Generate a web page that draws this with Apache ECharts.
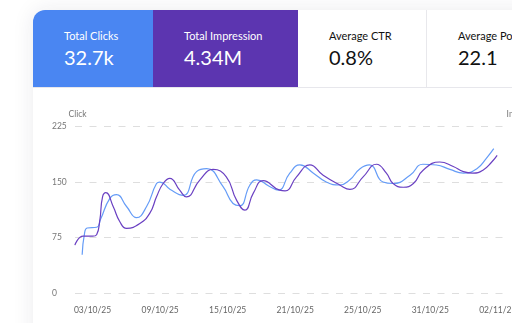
<!DOCTYPE html>
<html>
<head>
<meta charset="utf-8">
<script src="https://cdn.jsdelivr.net/npm/echarts@6/dist/echarts.min.js"></script>
<style>
  html, body { margin: 0; padding: 0; }
  body { width: 512px; height: 323px; overflow: hidden; background: #fff; font-family: Lato, "Noto Sans", sans-serif; position: relative; }
  .card { position: absolute; left: 33px; top: 10px; width: 560px; height: 400px; background: #fff;
          border-radius: 12px 0 0 0; box-shadow: 0 0 22px rgba(30, 30, 70, 0.09); overflow: hidden; }
  .tiles { display: flex; height: 77px; border-bottom: 1px solid #e7e7ec; }
  .tile { position: relative; height: 77px; box-sizing: border-box; flex: none; }
  .tile .label { position: absolute; left: 31px; top: 20px; font-size: 11px; line-height: 12px; white-space: nowrap; }
  .tile .num { position: absolute; left: 31px; top: 36px; font-size: 20px; line-height: 22px; white-space: nowrap; }
  .t1 { width: 120px; background: #4a86f2; color: #fff; }
  .t2 { width: 145px; background: #5c35b0; color: #fff; }
  .t3 { width: 129px; color: #111; border-right: 1px solid #e8e8ec; }
  .t4 { width: 160px; color: #111; }
  #chart { position: absolute; left: 0; top: 78px; width: 560px; height: 235px; }
</style>
</head>
<body>
<div class="card">
  <div class="tiles">
    <div class="tile t1"><div class="label">Total Clicks</div><div class="num">32.7k</div></div>
    <div class="tile t2"><div class="label">Total Impression</div><div class="num">4.34M</div></div>
    <div class="tile t3"><div class="label">Average CTR</div><div class="num">0.8%</div></div>
    <div class="tile t4"><div class="label">Average Position</div><div class="num">22.1</div></div>
  </div>
  <div id="chart"></div>
</div>
<script>
// Date labels along the bottom axis, one per label slot (slot index = position).
const dateLabels = ['03/10/25', '09/10/25', '15/10/25', '21/10/25', '25/10/25', '31/10/25', '02/11/25'];
const clickTicks = [0, 75, 150, 225];

// Clicks: position along the date axis (in label slots) and value.
const clickAt = [-0.154, -0.12, -0.08, 0.06, 0.12, 0.256, 0.355, 0.503, 0.651, 0.80, 0.947, 0.996,
  1.15, 1.34, 1.54, 1.69, 1.93, 2.08, 2.18, 2.33, 2.43, 2.62, 2.75, 2.92, 3.07, 3.27, 3.46,
  3.66, 3.81, 3.96, 4.10, 4.30, 4.45, 4.70, 4.89, 5.09, 5.29, 5.49, 5.69, 5.83, 5.94];
const clicks = [52, 80, 88, 89, 100, 128, 133, 117, 102, 117, 148, 150,
  140, 132, 164, 168, 144, 121, 118, 146, 153, 144, 139, 162, 173, 162, 150,
  146, 153, 168, 173, 150, 148, 159, 174, 173, 167, 162, 168, 182, 195];

// Impressions (right axis).
const impressionAt = [-0.262, -0.14, 0.0, 0.06, 0.108, 0.148, 0.197, 0.305, 0.404, 0.503, 0.70, 0.848,
  0.947, 1.045, 1.144, 1.29, 1.39, 1.59, 1.785, 1.98, 2.13, 2.255, 2.38, 2.526, 2.77, 2.85,
  3.02, 3.217, 3.414, 3.66, 3.81, 4.006, 4.204, 4.35, 4.45, 4.6, 4.75, 4.894, 5.14, 5.34,
  5.49, 5.63, 5.78, 5.91, 5.99];
const impressions = [65, 77, 77, 79, 99, 130, 135.6, 117, 96.5, 87.6, 94, 108,
  130, 148, 155, 139, 130, 153, 167, 157, 126, 112, 135, 152, 139, 138,
  157, 173, 159, 146, 140, 157, 174, 162, 148, 143, 148, 166, 177, 171,
  164, 162, 166, 177, 186];

const zip = (xs, ys) => xs.map((x, i) => [x, ys[i]]);

const chart = echarts.init(document.getElementById('chart'), null, { renderer: 'canvas' });
const axisFont = { fontFamily: 'Lato, "Noto Sans", sans-serif', fontSize: 8.5, color: '#777' };

chart.setOption({
  animation: false,
  grid: { left: 42, right: 86.4, top: 38.4, bottom: 29.7 },
  xAxis: {
    type: 'value',
    min: -0.26,
    max: 6.13,
    axisLine: { show: false },
    axisTick: { show: false },
    splitLine: { show: false },
    axisLabel: Object.assign({}, axisFont, {
      color: '#666',
      margin: 12,
      customValues: dateLabels.map((_, i) => i),
      formatter: (v) => dateLabels[Math.round(v)] || ''
    })
  },
  yAxis: [
    {
      type: 'value',
      min: clickTicks[0],
      max: clickTicks[clickTicks.length - 1],
      interval: 75,
      name: 'Click',
      nameLocation: 'end',
      nameGap: 12.4,
      nameTextStyle: Object.assign({}, axisFont, { align: 'right', verticalAlign: 'middle', padding: [0, 6, 0, 0] }),
      axisLine: { show: false },
      axisTick: { show: false },
      axisLabel: Object.assign({}, axisFont, { align: 'left', margin: 23 }),
      splitLine: { lineStyle: { color: '#dedede', width: 1, type: [7, 7.5] } }
    },
    {
      type: 'value',
      position: 'right',
      min: 0,
      max: 225,
      interval: 75,
      name: 'Impression',
      nameLocation: 'end',
      nameGap: 12.4,
      nameTextStyle: Object.assign({}, axisFont, { align: 'left', verticalAlign: 'middle', padding: [0, 0, 0, 0] }),
      axisLine: { show: false },
      axisTick: { show: false },
      axisLabel: { show: false },
      splitLine: { show: false }
    }
  ],
  series: [
    {
      name: 'Click',
      type: 'line',
      yAxisIndex: 0,
      smooth: true,
      showSymbol: false,
      lineStyle: { color: '#659cf7', width: 1.2 },
      itemStyle: { color: '#659cf7' },
      data: zip(clickAt, clicks)
    },
    {
      name: 'Impression',
      type: 'line',
      yAxisIndex: 1,
      smooth: true,
      showSymbol: false,
      lineStyle: { color: '#6a40c2', width: 1.2 },
      itemStyle: { color: '#6a40c2' },
      data: zip(impressionAt, impressions)
    }
  ]
});
</script>
</body>
</html>
